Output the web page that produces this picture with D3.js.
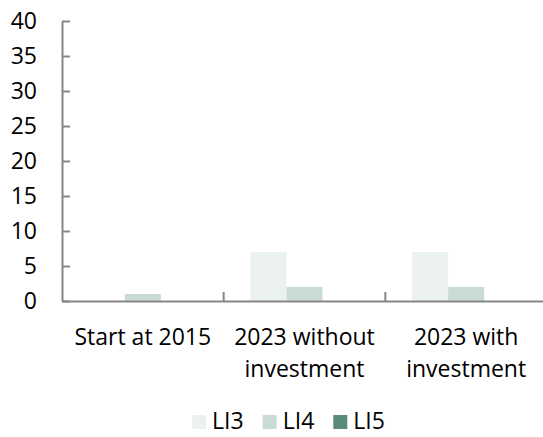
<!DOCTYPE html>
<html>
<head>
<meta charset="utf-8">
<script src="https://cdn.jsdelivr.net/npm/d3@7"></script>
<style>
  html, body { margin: 0; padding: 0; background: #fff; }
  svg { display: block; }
  text { font-family: "Open Sans", "Noto Sans", sans-serif; fill: #000; }
</style>
</head>
<body>
<svg id="chart" width="543" height="437"></svg>
<script>
// Chart data
const categories = ["Start at 2015", "2023 without investment", "2023 with investment"];
const seriesNames = ["LI3", "LI4", "LI5"];
const LI3 = [0, 7, 7];
const LI4 = [1, 2, 2];
const LI5 = [0, 0, 0];
const yTicks = [0, 5, 10, 15, 20, 25, 30, 35, 40];
const seriesColors = ["#EAF1EE", "#C8DCD5", "#5A8A78"];

const seriesValues = [LI3, LI4, LI5];

const svg = d3.select("#chart");
const fontSize = 23;
const axisColor = "#868686";

const plot = { left: 62, right: 547, top: 21, bottom: 301 };

const x = d3.scaleBand()
  .domain(categories)
  .range([plot.left, plot.right])
  .paddingInner(0)
  .paddingOuter(0);

const xs = d3.scaleBand()
  .domain(seriesNames)
  .range([0, x.bandwidth()])
  .paddingInner(0)
  .paddingOuter(0.745);

const y = d3.scaleLinear()
  .domain([0, 40])
  .range([plot.bottom, plot.top]);

// Bars
const rows = categories.map((c, i) => ({
  cat: c,
  vals: seriesNames.map((s, j) => ({ s, v: seriesValues[j][i], color: seriesColors[j] }))
}));

const groups = svg.append("g").selectAll("g")
  .data(rows)
  .join("g")
  .attr("transform", d => `translate(${x(d.cat)},0)`);

groups.selectAll("rect")
  .data(d => d.vals)
  .join("rect")
  .attr("x", d => xs(d.s))
  .attr("width", xs.bandwidth())
  .attr("y", d => y(d.v))
  .attr("height", d => y(0) - y(d.v))
  .attr("fill", d => d.color);

// Y axis: ticks drawn inward, labels to the left
const yAxis = d3.axisLeft(y)
  .tickValues(yTicks)
  .tickSizeInner(-8)
  .tickSizeOuter(0)
  .tickPadding(25);

const yg = svg.append("g")
  .attr("transform", `translate(${plot.left},0)`)
  .call(yAxis);
yg.select(".domain").attr("stroke", axisColor).attr("stroke-width", 2);
yg.selectAll(".tick line").attr("stroke", axisColor).attr("stroke-width", 2);
yg.selectAll(".tick text")
  .attr("font-size", fontSize)
  .attr("font-family", null)
  .attr("fill", "#000");

// X axis line
const xAxis = d3.axisBottom(x).tickSize(0).tickFormat("");
const xg = svg.append("g")
  .attr("transform", `translate(0,${plot.bottom})`)
  .call(xAxis);
xg.select(".domain").attr("stroke", axisColor).attr("stroke-width", 2);
xg.selectAll(".tick").remove();

// Category separator ticks pointing up
svg.append("g").selectAll("line")
  .data(categories.slice(1))
  .join("line")
  .attr("x1", d => x(d)).attr("x2", d => x(d))
  .attr("y1", plot.bottom).attr("y2", plot.bottom - 9)
  .attr("stroke", axisColor).attr("stroke-width", 2);

// Category labels, wrapped to the band width
const maxWidth = x.bandwidth() - 8;
const labelG = svg.append("g");
categories.forEach(cat => {
  const cxm = x(cat) + x.bandwidth() / 2;
  const t = labelG.append("text")
    .attr("x", cxm)
    .attr("y", 345)
    .attr("text-anchor", "middle")
    .attr("font-size", fontSize);
  const words = cat.split(" ");
  let line = [];
  let tspan = t.append("tspan").attr("x", cxm).attr("dy", 0);
  words.forEach(w => {
    line.push(w);
    tspan.text(line.join(" "));
    if (tspan.node().getComputedTextLength() > maxWidth && line.length > 1) {
      line.pop();
      tspan.text(line.join(" "));
      line = [w];
      tspan = t.append("tspan")
        .attr("x", cxm)
        .attr("dy", 32)
        .text(w);
    }
  });
});

// Legend
const legend = svg.append("g");
const sq = 14, gapText = 6, gapItem = 19;
const legendBase = 429;
let cx = 0;
seriesNames.forEach((s, i) => {
  const g = legend.append("g");
  g.append("rect")
    .attr("x", 0).attr("y", legendBase - sq)
    .attr("width", sq).attr("height", sq)
    .attr("fill", seriesColors[i]);
  const t = g.append("text")
    .attr("x", sq + gapText).attr("y", legendBase)
    .attr("font-size", fontSize)
    .text(s);
  const w = sq + gapText + t.node().getComputedTextLength();
  g.attr("transform", `translate(${cx},0)`);
  cx += w + gapItem;
});
const totalW = cx - gapItem;
legend.attr("transform", `translate(${288.5 - totalW / 2},0)`);
</script>
</body>
</html>
